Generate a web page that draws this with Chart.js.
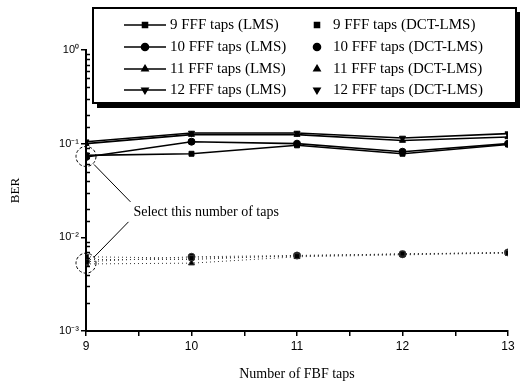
<!DOCTYPE html>
<html>
<head>
<meta charset="utf-8">
<script src="https://cdn.jsdelivr.net/npm/chart.js@4/dist/chart.umd.min.js"></script>
<style>
  html, body { margin: 0; padding: 0; background: #fff; }
  #wrap { width: 527px; height: 387px; }
</style>
</head>
<body>
<div id="wrap"><canvas id="myChart" width="527" height="387"></canvas></div>
<script>
// number of FBF taps
var fbfTaps = [9, 10, 11, 12, 13];

// BER, LMS
var lms9 = [0.075, 0.078, 0.096, 0.078, 0.098];
var lms10 = [0.072, 0.105, 0.100, 0.082, 0.100];
var lms11 = [0.100, 0.125, 0.125, 0.108, 0.118];
var lms12 = [0.105, 0.130, 0.130, 0.115, 0.128];

// BER, DCT-LMS
var dct9 = [0.0062, 0.0060, 0.0063, 0.0067, 0.0068];
var dct10 = [0.0055, 0.0062, 0.0064, 0.0066, 0.0069];
var dct11 = [0.0052, 0.0053, 0.0062, 0.0065, 0.0068];
var dct12 = [0.0058, 0.0058, 0.0064, 0.0066, 0.0069];

var yTickLabels = {'1': '10\u2070', '0.1': '10\u207B\u00B9', '0.01': '10\u207B\u00B2', '0.001': '10\u207B\u00B3'};
var xTickLabels = ['9', '10', '11', '12', '13'];

var serif = '"Liberation Serif", "Times New Roman", serif';
var sans = '"Liberation Sans", Arial, sans-serif';

function pts(vals) {
  var out = [];
  for (var i = 0; i < fbfTaps.length; i++) {
    out.push({x: fbfTaps[i], y: vals[i]});
  }
  return out;
}

function isDecade(v) {
  return yTickLabels[String(v)] !== undefined;
}

function lmsSet(label, vals, style, rot) {
  return {
    label: label,
    data: pts(vals),
    borderColor: '#000',
    backgroundColor: '#000',
    borderWidth: 1.6,
    pointStyle: style,
    pointRotation: rot || 0,
    pointRadius: 3.5,
    pointBorderWidth: 1
  };
}

function dctSet(label, vals, style, rot) {
  return {
    label: label,
    data: pts(vals),
    borderColor: '#333',
    backgroundColor: '#000',
    borderWidth: 1,
    borderDash: [1, 3],
    pointStyle: style,
    pointRotation: rot || 0,
    pointRadius: 3.5,
    pointBorderWidth: 1
  };
}

var datasets = [
  lmsSet('9 FFF taps (LMS)', lms9, 'rect'),
  lmsSet('10 FFF taps (LMS)', lms10, 'circle'),
  lmsSet('11 FFF taps (LMS)', lms11, 'triangle'),
  lmsSet('12 FFF taps (LMS)', lms12, 'triangle', 180),
  dctSet('9 FFF taps (DCT-LMS)', dct9, 'rect'),
  dctSet('10 FFF taps (DCT-LMS)', dct10, 'circle'),
  dctSet('11 FFF taps (DCT-LMS)', dct11, 'triangle'),
  dctSet('12 FFF taps (DCT-LMS)', dct12, 'triangle', 180)
];

function marker(ctx, ds, x, y) {
  var opts = {pointStyle: ds.pointStyle, radius: 3.5, rotation: ds.pointRotation, borderWidth: 1};
  ctx.save();
  ctx.fillStyle = '#000';
  ctx.strokeStyle = '#000';
  ctx.setLineDash([]);
  Chart.helpers.drawPoint(ctx, opts, x, y);
  ctx.restore();
}

// boxed legend with a shadow, two columns
var boxLegend = {
  id: 'boxLegend',
  afterDraw: function(chart) {
    var ctx = chart.ctx;
    var bx = 93, by = 8, bw = 423, bh = 95;
    ctx.save();
    ctx.fillStyle = '#000';
    ctx.fillRect(bx + 4, by + 4, bw, bh + 1);
    ctx.fillStyle = '#fff';
    ctx.fillRect(bx, by, bw, bh);
    ctx.strokeStyle = '#000';
    ctx.lineWidth = 2;
    ctx.strokeRect(bx, by, bw, bh);
    ctx.font = '15px ' + serif;
    ctx.fillStyle = '#000';
    ctx.textBaseline = 'middle';
    var rows = [25, 47, 69, 90];
    for (var i = 0; i < 4; i++) {
      var a = chart.data.datasets[i];
      var b = chart.data.datasets[i + 4];
      var ry = rows[i];
      ctx.lineWidth = 1.6;
      ctx.beginPath();
      ctx.moveTo(124, ry);
      ctx.lineTo(166, ry);
      ctx.stroke();
      marker(ctx, a, 145, ry);
      ctx.fillText(a.label, 170, ry);
      marker(ctx, b, 317, ry);
      ctx.fillText(b.label, 333, ry);
    }
    ctx.restore();
  }
};

// minor log ticks pointing into the plot
var innerTicks = {
  id: 'innerTicks',
  afterDraw: function(chart) {
    var ctx = chart.ctx;
    var ys = chart.scales.y;
    ctx.save();
    ctx.strokeStyle = '#000';
    ctx.lineWidth = 1.5;
    ctx.beginPath();
    ys.ticks.forEach(function(t) {
      if (isDecade(t.value)) return;
      var py = Math.round(ys.getPixelForValue(t.value)) + 0.5;
      ctx.moveTo(ys.right, py);
      ctx.lineTo(ys.right + 4, py);
    });
    ctx.stroke();
    ctx.restore();
  }
};

// dashed circles and arrows pointing at 9 taps
var selectNote = {
  id: 'selectNote',
  afterDatasetsDraw: function(chart) {
    var ctx = chart.ctx;
    var xs = chart.scales.x, ys = chart.scales.y;
    var cx = xs.getPixelForValue(9);
    var c1 = ys.getPixelForValue(0.073);
    var c2 = ys.getPixelForValue(0.0053);
    var tx = xs.getPixelForValue(9.45);
    var ty = ys.getPixelForValue(0.0187);
    ctx.save();
    ctx.strokeStyle = '#000';
    ctx.lineWidth = 1;
    ctx.setLineDash([3, 2]);
    ctx.beginPath();
    ctx.arc(cx, c1, 10, 0, Math.PI * 2);
    ctx.stroke();
    ctx.beginPath();
    ctx.arc(cx, c2, 10, 0, Math.PI * 2);
    ctx.stroke();
    ctx.setLineDash([]);
    ctx.beginPath();
    ctx.moveTo(tx - 3, ty - 10);
    ctx.lineTo(cx + 8, c1 + 8);
    ctx.moveTo(tx - 5, ty + 10);
    ctx.lineTo(cx + 8, c2 - 6);
    ctx.stroke();
    ctx.font = '14px ' + serif;
    ctx.fillStyle = '#000';
    ctx.textBaseline = 'middle';
    ctx.fillText('Select this number of taps', tx, ty);
    ctx.restore();
  }
};

var ctx = document.getElementById('myChart').getContext('2d');
var myChart = new Chart(ctx, {
  type: 'line',
  data: {datasets: datasets},
  options: {
    responsive: false,
    animation: false,
    layout: {padding: {left: 0, right: 19, top: 50, bottom: 0}},
    plugins: {
      legend: {display: false},
      tooltip: {enabled: false}
    },
    scales: {
      x: {
        type: 'linear',
        min: 9,
        max: 13,
        ticks: {
          stepSize: 0.5,
          autoSkip: false,
          maxRotation: 0,
          color: '#000',
          font: {family: sans, size: 12},
          padding: 3,
          callback: function(v) {
            return Number.isInteger(v) ? xTickLabels[v - 9] : '';
          }
        },
        grid: {display: true, drawOnChartArea: false, drawTicks: true, tickLength: 5, color: '#000', lineWidth: 1.5},
        border: {color: '#000', width: 2},
        title: {display: true, text: 'Number of FBF taps', color: '#000', font: {family: serif, size: 14}, padding: {top: 0, bottom: 4}},
        afterFit: function(s) { s.height = 56; }
      },
      y: {
        type: 'logarithmic',
        min: 0.001,
        max: 1,
        ticks: {
          autoSkip: false,
          color: '#000',
          font: {family: sans, size: 11},
          padding: 2,
          callback: function(v) {
            return yTickLabels[String(v)] || '';
          }
        },
        grid: {
          display: true,
          drawOnChartArea: false,
          drawTicks: true,
          tickLength: 5,
          lineWidth: 1.5,
          color: function(c) {
            return c.tick && isDecade(c.tick.value) ? '#000' : 'rgba(0,0,0,0)';
          }
        },
        border: {color: '#000', width: 2},
        title: {display: true, text: 'BER', color: '#000', font: {family: serif, size: 13}, padding: {top: 8, bottom: 0}},
        afterFit: function(s) { s.width = 86; }
      }
    }
  },
  plugins: [boxLegend, innerTicks, selectNote]
});
</script>
</body>
</html>
